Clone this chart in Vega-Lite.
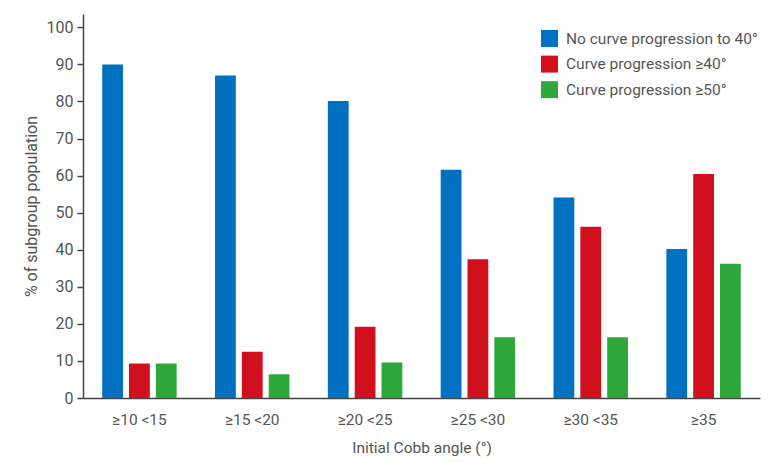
{
  "$schema": "https://vega.github.io/schema/vega-lite/v6.json",
  "width": 677,
  "height": 384,
  "autosize": {"type": "none"},
  "padding": {"left": 83, "top": 14, "right": 19, "bottom": 64},
  "background": "white",
  "config": {
    "view": {"stroke": null},
    "font": "Roboto, sans-serif"
  },
  "data": {
    "values": [
      {"group": "≥10 <15", "series": "No curve progression to 40°", "value": 90.0},
      {"group": "≥10 <15", "series": "Curve progression ≥40°", "value": 9.3},
      {"group": "≥10 <15", "series": "Curve progression ≥50°", "value": 9.3},
      {"group": "≥15 <20", "series": "No curve progression to 40°", "value": 87.0},
      {"group": "≥15 <20", "series": "Curve progression ≥40°", "value": 12.5},
      {"group": "≥15 <20", "series": "Curve progression ≥50°", "value": 6.4},
      {"group": "≥20 <25", "series": "No curve progression to 40°", "value": 80.1},
      {"group": "≥20 <25", "series": "Curve progression ≥40°", "value": 19.2},
      {"group": "≥20 <25", "series": "Curve progression ≥50°", "value": 9.6},
      {"group": "≥25 <30", "series": "No curve progression to 40°", "value": 61.6},
      {"group": "≥25 <30", "series": "Curve progression ≥40°", "value": 37.4},
      {"group": "≥25 <30", "series": "Curve progression ≥50°", "value": 16.4},
      {"group": "≥30 <35", "series": "No curve progression to 40°", "value": 54.1},
      {"group": "≥30 <35", "series": "Curve progression ≥40°", "value": 46.2},
      {"group": "≥30 <35", "series": "Curve progression ≥50°", "value": 16.4},
      {"group": "≥35", "series": "No curve progression to 40°", "value": 40.2},
      {"group": "≥35", "series": "Curve progression ≥40°", "value": 60.4},
      {"group": "≥35", "series": "Curve progression ≥50°", "value": 36.2}
    ]
  },
  "mark": {"type": "bar"},
  "encoding": {
    "x": {
      "field": "group",
      "type": "nominal",
      "sort": ["≥10 <15", "≥15 <20", "≥20 <25", "≥25 <30", "≥30 <35", "≥35"],
      "scale": {"paddingInner": 0.34, "paddingOuter": 0.17},
      "axis": {
        "title": "Initial Cobb angle (°)",
        "labelAngle": 0,
        "ticks": false,
        "labelPadding": 14,
        "labelFontSize": 15.5,
        "labelColor": "#555555",
        "titleFontSize": 15.5,
        "titleFontWeight": "normal",
        "titleColor": "#555555",
        "titlePadding": 13,
        "domainColor": "#444444",
        "domainWidth": 1.5
      }
    },
    "xOffset": {
      "field": "series",
      "type": "nominal",
      "sort": ["No curve progression to 40°", "Curve progression ≥40°", "Curve progression ≥50°"],
      "scale": {"paddingInner": 0.225, "paddingOuter": 0}
    },
    "y": {
      "field": "value",
      "type": "quantitative",
      "scale": {"domain": [0, 103.6], "nice": false},
      "axis": {
        "title": "% of subgroup population",
        "values": [0, 10, 20, 30, 40, 50, 60, 70, 80, 90, 100],
        "grid": false,
        "tickSize": 6,
        "tickColor": "#444444",
        "tickWidth": 1.5,
        "labelPadding": 4,
        "labelFontSize": 16,
        "labelColor": "#555555",
        "titleFontSize": 16,
        "titleFontWeight": "normal",
        "titleColor": "#555555",
        "titlePadding": 7,
        "domainColor": "#444444",
        "domainWidth": 1.5
      }
    },
    "color": {
      "field": "series",
      "type": "nominal",
      "sort": ["No curve progression to 40°", "Curve progression ≥40°", "Curve progression ≥50°"],
      "scale": {
        "domain": ["No curve progression to 40°", "Curve progression ≥40°", "Curve progression ≥50°"],
        "range": ["#0070C0", "#D0101C", "#2EA83A"]
      },
      "legend": {
        "title": null,
        "orient": "none",
        "legendX": 458,
        "legendY": 16,
        "padding": 0,
        "symbolType": "square",
        "symbolSize": 289,
        "symbolStrokeWidth": 0,
        "labelFontSize": 15.5,
        "labelColor": "#555555",
        "labelOffset": 8,
        "rowPadding": 8.6,
        "labelLimit": 300
      }
    }
  }
}
